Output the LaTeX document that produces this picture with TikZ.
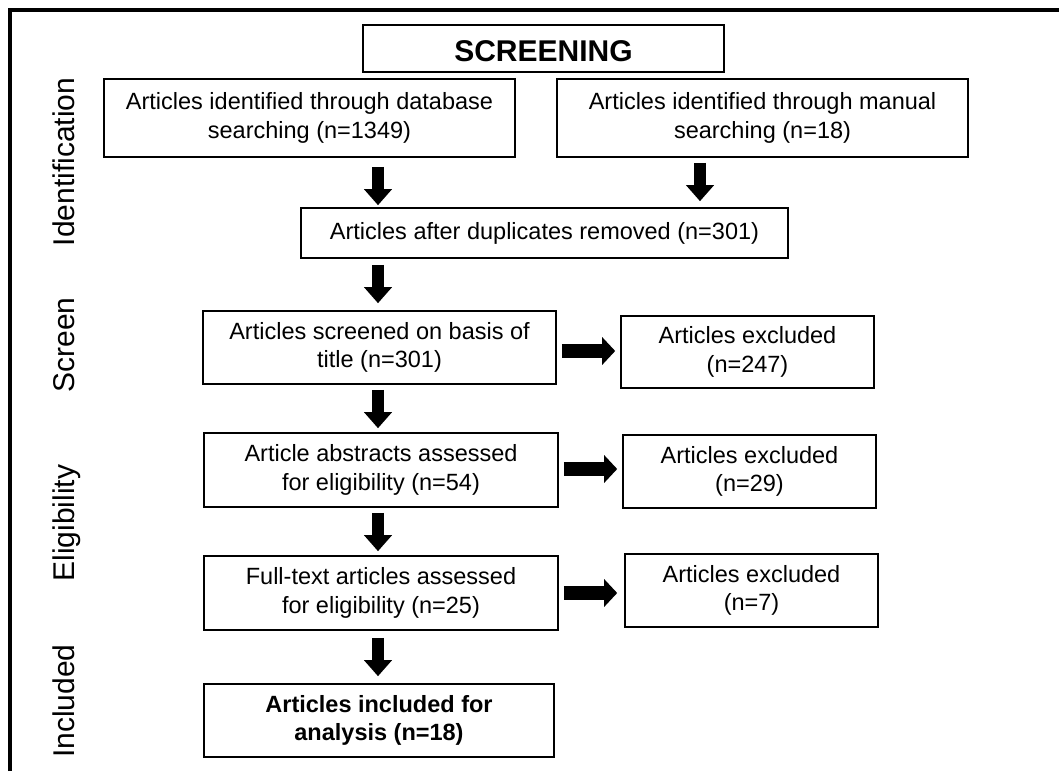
\documentclass[tikz,border=0pt]{standalone}
\usepackage{fontspec}
\setmainfont{Liberation Sans}
\usetikzlibrary{arrows.meta}
\begin{document}
\begin{tikzpicture}[x=1pt,y=1pt,
  box/.style={draw,line width=1.6pt,align=center,inner sep=0pt,
    font=\fontsize{23.5}{28.5}\selectfont},
  side/.style={rotate=90,anchor=base,font=\fontsize{30}{34}\selectfont},
  blk/.style={line width=12pt,-{Triangle[width=27pt,length=16pt]}},
  bkh/.style={line width=14pt,-{Triangle[width=27pt,length=13pt]}}]
\useasboundingbox (0,0) rectangle (1059,-771);
\draw[line width=4pt] (10,-771) -- (10,-10) -- (1059,-10);

\node[box,minimum width=361,minimum height=47,font=\bfseries\fontsize{30}{32}\selectfont] (scrn) at (543.5,-48.5) {\raisebox{-3pt}[\height][0pt]{SCREENING}};
\node[box,minimum width=411,minimum height=78] (db) at (309.5,-118) {Articles identified through database\\searching (n=1349)};
\node[box,minimum width=411,minimum height=78] (man) at (762.5,-118) {Articles identified through manual\\searching (n=18)};
\node[box,minimum width=487,minimum height=50] (dup) at (544.5,-233) {Articles after duplicates removed (n=301)};
\node[box,minimum width=353,minimum height=73] (scr) at (379.5,-347.5) {Articles screened on basis of\\title (n=301)};
\node[box,minimum width=253,minimum height=72] (ex1) at (747.5,-352) {Articles excluded\\(n=247)};
\node[box,minimum width=354,minimum height=74] (abs) at (381,-470) {Article abstracts assessed\\for eligibility (n=54)};
\node[box,minimum width=253,minimum height=73] (ex2) at (749.5,-471.5) {Articles excluded\\(n=29)};
\node[box,minimum width=354,minimum height=74] (full) at (381,-593) {Full-text articles assessed\\for eligibility (n=25)};
\node[box,minimum width=253,minimum height=73] (ex3) at (751.5,-590.5) {Articles excluded\\(n=7)};
\node[box,minimum width=350,minimum height=73,font=\bfseries\fontsize{23.5}{28.5}\selectfont] (incl) at (379,-720.5) {Articles included for\\analysis (n=18)};

\node[side] (l1) at (74,-162) {Identification};
\node[side] (l2) at (74,-345) {Screen};
\node[side] (l3) at (74,-523) {Eligibility};
\node[side] (l4) at (74,-701) {Included};

\coordinate (cx) at (378,0);
\coordinate (mx) at (700,0);
\coordinate (r1) at (0,-351);
\coordinate (r2) at (0,-469);
\coordinate (r3) at (0,-593);

\draw[blk,shorten <=9pt,shorten >=2pt] (db.south -| cx) -- (dup.north -| cx);
\draw[blk,shorten <=5pt,shorten >=6pt] (man.south -| mx) -- (dup.north -| mx);
\draw[blk,shorten <=6pt,shorten >=7pt] (dup.south -| cx) -- (scr.north -| cx);
\draw[blk,shorten <=5pt,shorten >=4pt] (scr.south -| cx) -- (abs.north -| cx);
\draw[blk,shorten <=5pt,shorten >=4pt] (abs.south -| cx) -- (full.north -| cx);
\draw[blk,shorten <=7pt,shorten >=7pt] (full.south -| cx) -- (incl.north -| cx);

\draw[bkh,shorten <=5pt,shorten >=5pt] (scr.east |- r1) -- (ex1.west |- r1);
\draw[bkh,shorten <=5pt,shorten >=5pt] (abs.east |- r2) -- (ex2.west |- r2);
\draw[bkh,shorten <=5pt,shorten >=7pt] (full.east |- r3) -- (ex3.west |- r3);
\end{tikzpicture}
\end{document}
